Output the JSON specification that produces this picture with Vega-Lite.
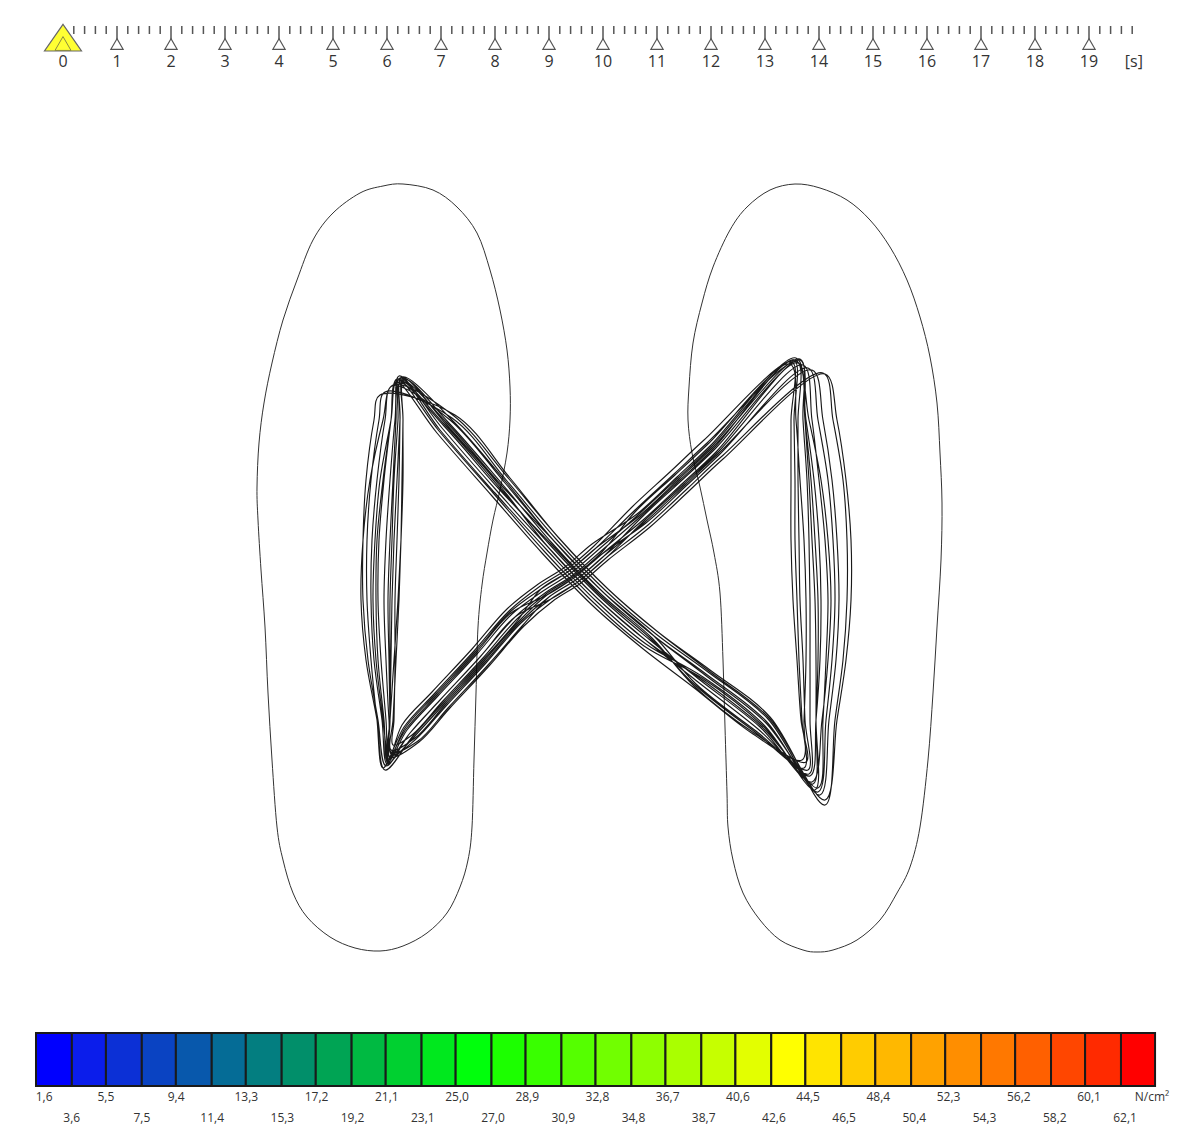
{
  "$schema": "https://vega.github.io/schema/vega-lite/v6.json",
  "padding": 0,
  "spacing": 0,
  "bounds": "flush",
  "background": "white",
  "config": {
    "view": {"stroke": null},
    "font": "Open Sans",
    "locale": {"number": {"decimal": ",", "thousands": ".", "grouping": [3], "currency": ["", " €"]}}
  },
  "vconcat": [
    {
      "width": 1192,
      "height": 90,
      "layer": [
        {
          "data": {"values": [0.2,0.4,0.6,0.8,1.2,1.4,1.6,1.8,2.2,2.4,2.6,2.8,3.2,3.4,3.6,3.8,4.2,4.4,4.6,4.8,5.2,5.4,5.6,5.8,6.2,6.4,6.6,6.8,7.2,7.4,7.6,7.8,8.2,8.4,8.6,8.8,9.2,9.4,9.6,9.8,10.2,10.4,10.6,10.8,11.2,11.4,11.6,11.8,12.2,12.4,12.6,12.8,13.2,13.4,13.6,13.8,14.2,14.4,14.6,14.8,15.2,15.4,15.6,15.8,16.2,16.4,16.6,16.8,17.2,17.4,17.6,17.8,18.2,18.4,18.6,18.8,19.2,19.4,19.6,19.8]},
          "mark": {"type": "rule", "color": "#555555", "strokeWidth": 1.5},
          "encoding": {
            "x": {"field": "data", "type": "quantitative", "scale": {"domain": [-1.16667, 20.90741], "nice": false, "zero": false}, "axis": null},
            "y": {"datum": 26, "type": "quantitative", "scale": {"domain": [0, 90], "reverse": true, "nice": false}, "axis": null},
            "y2": {"datum": 34}
          }
        },
        {
          "data": {"values": [1,2,3,4,5,6,7,8,9,10,11,12,13,14,15,16,17,18,19]},
          "mark": {"type": "rule", "color": "#555555", "strokeWidth": 1.5},
          "encoding": {
            "x": {"field": "data", "type": "quantitative", "scale": {"domain": [-1.16667, 20.90741], "nice": false, "zero": false}, "axis": null},
            "y": {"datum": 26, "type": "quantitative", "scale": {"domain": [0, 90], "reverse": true, "nice": false}, "axis": null},
            "y2": {"datum": 39}
          }
        },
        {
          "data": {"values": [1,2,3,4,5,6,7,8,9,10,11,12,13,14,15,16,17,18,19]},
          "mark": {"type": "point", "shape": "triangle-up", "size": 150, "filled": true, "fill": "white", "stroke": "#555555", "strokeWidth": 1.2, "opacity": 1},
          "encoding": {
            "x": {"field": "data", "type": "quantitative", "scale": {"domain": [-1.16667, 20.90741], "nice": false, "zero": false}, "axis": null},
            "y": {"datum": 44, "type": "quantitative", "scale": {"domain": [0, 90], "reverse": true, "nice": false}, "axis": null}
          }
        },
        {
          "data": {"values": [0]},
          "mark": {"type": "point", "shape": "M0,-0.72L1,0.72L-1,0.72Z", "size": 1369, "filled": true, "fill": "#FFFF33", "stroke": "#666666", "strokeWidth": 1.2, "opacity": 1},
          "encoding": {
            "x": {"field": "data", "type": "quantitative", "scale": {"domain": [-1.16667, 20.90741], "nice": false, "zero": false}, "axis": null},
            "y": {"datum": 37.7, "type": "quantitative", "scale": {"domain": [0, 90], "reverse": true, "nice": false}, "axis": null}
          }
        },
        {
          "data": {"values": [0]},
          "mark": {"type": "point", "shape": "triangle-up", "size": 256, "filled": false, "stroke": "#8a8a40", "strokeWidth": 1, "opacity": 1},
          "encoding": {
            "x": {"field": "data", "type": "quantitative", "scale": {"domain": [-1.16667, 20.90741], "nice": false, "zero": false}, "axis": null},
            "y": {"datum": 43.5, "type": "quantitative", "scale": {"domain": [0, 90], "reverse": true, "nice": false}, "axis": null}
          }
        },
        {
          "data": {"values": [0,1,2,3,4,5,6,7,8,9,10,11,12,13,14,15,16,17,18,19]},
          "mark": {"type": "text", "fontSize": 16, "color": "#333333", "baseline": "middle", "align": "center"},
          "encoding": {
            "x": {"field": "data", "type": "quantitative", "scale": {"domain": [-1.16667, 20.90741], "nice": false, "zero": false}, "axis": null},
            "y": {"datum": 62, "type": "quantitative", "scale": {"domain": [0, 90], "reverse": true, "nice": false}, "axis": null},
            "text": {"field": "data", "type": "quantitative", "format": "d"}
          }
        },
        {
          "data": {"values": [{"unit": "[s]"}]},
          "mark": {"type": "text", "fontSize": 16, "color": "#333333", "baseline": "middle", "align": "center"},
          "encoding": {
            "x": {"datum": 19.83, "type": "quantitative", "scale": {"domain": [-1.16667, 20.90741], "nice": false, "zero": false}, "axis": null},
            "y": {"datum": 62, "type": "quantitative", "scale": {"domain": [0, 90], "reverse": true, "nice": false}, "axis": null},
            "text": {"field": "unit"}
          }
        }
      ]
    },
    {
      "width": 1192,
      "height": 930,
      "layer": [
        {
          "data": {"values": [
            {"foot":"L","x":403,"y":184},{"foot":"L","x":433,"y":190},{"foot":"L","x":457,"y":207},{"foot":"L","x":477,"y":233},{"foot":"L","x":490,"y":270},{"foot":"L","x":500,"y":310},{"foot":"L","x":507,"y":350},{"foot":"L","x":510,"y":387},{"foot":"L","x":510,"y":420},{"foot":"L","x":507,"y":453},{"foot":"L","x":500,"y":490},{"foot":"L","x":493,"y":520},{"foot":"L","x":487,"y":553},{"foot":"L","x":482,"y":585},{"foot":"L","x":478,"y":627},{"foot":"L","x":476,"y":693},{"foot":"L","x":474,"y":760},{"foot":"L","x":472,"y":827},{"foot":"L","x":468,"y":860},{"foot":"L","x":460,"y":887},{"foot":"L","x":447,"y":913},{"foot":"L","x":427,"y":933},{"foot":"L","x":403,"y":946},{"foot":"L","x":380,"y":951},{"foot":"L","x":355,"y":948},{"foot":"L","x":330,"y":937},{"foot":"L","x":307,"y":917},{"foot":"L","x":293,"y":893},{"foot":"L","x":283,"y":860},{"foot":"L","x":277,"y":827},{"foot":"L","x":272,"y":760},{"foot":"L","x":268,"y":693},{"foot":"L","x":265,"y":627},{"foot":"L","x":261,"y":570},{"foot":"L","x":258,"y":520},{"foot":"L","x":257,"y":487},{"foot":"L","x":259,"y":443},{"foot":"L","x":264,"y":403},{"foot":"L","x":272,"y":363},{"foot":"L","x":283,"y":320},{"foot":"L","x":297,"y":280},{"foot":"L","x":313,"y":240},{"foot":"L","x":333,"y":213},{"foot":"L","x":360,"y":193},{"foot":"L","x":383,"y":186},
            {"foot":"R","x":795,"y":184},{"foot":"R","x":820,"y":188},{"foot":"R","x":847,"y":200},{"foot":"R","x":870,"y":220},{"foot":"R","x":890,"y":247},{"foot":"R","x":907,"y":280},{"foot":"R","x":920,"y":317},{"foot":"R","x":930,"y":357},{"foot":"R","x":937,"y":403},{"foot":"R","x":940,"y":453},{"foot":"R","x":942,"y":503},{"foot":"R","x":941,"y":560},{"foot":"R","x":937,"y":627},{"foot":"R","x":933,"y":693},{"foot":"R","x":928,"y":760},{"foot":"R","x":920,"y":827},{"foot":"R","x":910,"y":867},{"foot":"R","x":897,"y":893},{"foot":"R","x":880,"y":920},{"foot":"R","x":857,"y":940},{"foot":"R","x":833,"y":950},{"foot":"R","x":817,"y":952},{"foot":"R","x":803,"y":950},{"foot":"R","x":780,"y":940},{"foot":"R","x":760,"y":920},{"foot":"R","x":743,"y":893},{"foot":"R","x":733,"y":860},{"foot":"R","x":728,"y":827},{"foot":"R","x":727,"y":793},{"foot":"R","x":725,"y":727},{"foot":"R","x":723,"y":660},{"foot":"R","x":720,"y":593},{"foot":"R","x":714,"y":553},{"foot":"R","x":707,"y":520},{"foot":"R","x":700,"y":487},{"foot":"R","x":692,"y":453},{"foot":"R","x":688,"y":420},{"foot":"R","x":689,"y":387},{"foot":"R","x":693,"y":343},{"foot":"R","x":702,"y":303},{"foot":"R","x":713,"y":267},{"foot":"R","x":730,"y":230},{"foot":"R","x":747,"y":207},{"foot":"R","x":770,"y":190}
          ]},
          "mark": {"type": "line", "interpolate": "cardinal-closed", "color": "#333333", "strokeWidth": 1},
          "encoding": {
            "x": {"field": "x", "type": "quantitative", "scale": {"domain": [0, 1192], "nice": false, "zero": false}, "axis": null},
            "y": {"field": "y", "type": "quantitative", "scale": {"domain": [90, 1020], "reverse": true, "nice": false, "zero": false}, "axis": null},
            "detail": {"field": "foot"},
            "order": {"value": null}
          }
        },
        {
          "data": {"values": [
            {"x":388,"y":765},{"x":383,"y":720},{"x":376,"y":660},{"x":373,"y":600},{"x":375,"y":540},{"x":380,"y":480},{"x":391,"y":420},{"x":398,"y":380},
            {"x":445,"y":425},{"x":500,"y":488},{"x":550,"y":545},{"x":600,"y":597},{"x":650,"y":640},{"x":700,"y":680},{"x":760,"y":727},{"x":812,"y":782},
            {"x":822,"y":720},{"x":828,"y":660},{"x":831,"y":600},{"x":828,"y":540},{"x":821,"y":480},{"x":809,"y":420},{"x":795,"y":360},
            {"x":713,"y":449},{"x":680,"y":480},{"x":640,"y":517},{"x":600,"y":552},{"x":573,"y":575},{"x":545,"y":593},{"x":515,"y":617},{"x":480,"y":657},{"x":440,"y":700},{"x":410,"y":733},

            {"x":390,"y":758},{"x":390,"y":720},{"x":391,"y":660},{"x":392,"y":600},{"x":394,"y":540},{"x":397,"y":480},{"x":400,"y":420},{"x":402,"y":377},
            {"x":451,"y":419},{"x":506,"y":482},{"x":554,"y":541},{"x":604,"y":593},{"x":654,"y":636},{"x":696,"y":684},{"x":756,"y":731},{"x":808,"y":770},
            {"x":805,"y":720},{"x":803,"y":660},{"x":800,"y":600},{"x":799,"y":540},{"x":798,"y":480},{"x":798,"y":420},{"x":797,"y":362},
            {"x":707,"y":443},{"x":674,"y":474},{"x":634,"y":511},{"x":596,"y":548},{"x":569,"y":571},{"x":541,"y":589},{"x":518,"y":620},{"x":483,"y":660},{"x":443,"y":703},{"x":413,"y":736},

            {"x":385,"y":770},{"x":377,"y":720},{"x":366,"y":660},{"x":361,"y":600},{"x":363,"y":540},{"x":370,"y":480},{"x":383,"y":420},{"x":393,"y":385},
            {"x":454,"y":416},{"x":509,"y":479},{"x":558,"y":537},{"x":608,"y":589},{"x":658,"y":632},{"x":710,"y":670},{"x":770,"y":717},{"x":825,"y":805},
            {"x":835,"y":720},{"x":843,"y":660},{"x":847,"y":600},{"x":847,"y":540},{"x":843,"y":480},{"x":833,"y":420},{"x":823,"y":373},
            {"x":721,"y":457},{"x":688,"y":488},{"x":648,"y":525},{"x":606,"y":558},{"x":579,"y":581},{"x":551,"y":599},{"x":521,"y":623},{"x":486,"y":663},{"x":446,"y":706},{"x":416,"y":739},

            {"x":392,"y":755},{"x":389,"y":720},{"x":386,"y":660},{"x":384,"y":600},{"x":386,"y":540},{"x":390,"y":480},{"x":395,"y":420},{"x":400,"y":378},
            {"x":440,"y":430},{"x":495,"y":493},{"x":546,"y":549},{"x":596,"y":601},{"x":646,"y":644},{"x":703,"y":677},{"x":763,"y":724},{"x":815,"y":790},
            {"x":816,"y":720},{"x":816,"y":660},{"x":815,"y":600},{"x":812,"y":540},{"x":809,"y":480},{"x":805,"y":420},{"x":800,"y":360},
            {"x":716,"y":452},{"x":683,"y":483},{"x":643,"y":520},{"x":602,"y":554},{"x":575,"y":577},{"x":547,"y":595},{"x":511,"y":613},{"x":476,"y":653},{"x":436,"y":696},{"x":406,"y":729},

            {"x":387,"y":762},{"x":390,"y":720},{"x":394,"y":660},{"x":398,"y":600},{"x":401,"y":540},{"x":403,"y":480},{"x":403,"y":420},{"x":404,"y":379},
            {"x":448,"y":422},{"x":503,"y":485},{"x":552,"y":543},{"x":602,"y":595},{"x":652,"y":638},{"x":694,"y":686},{"x":754,"y":733},{"x":806,"y":762},
            {"x":801,"y":720},{"x":797,"y":660},{"x":793,"y":600},{"x":791,"y":540},{"x":791,"y":480},{"x":791,"y":420},{"x":792,"y":362},
            {"x":704,"y":440},{"x":671,"y":471},{"x":631,"y":508},{"x":594,"y":546},{"x":567,"y":569},{"x":539,"y":587},{"x":509,"y":611},{"x":474,"y":651},{"x":434,"y":694},{"x":404,"y":727},

            {"x":383,"y":768},{"x":377,"y":720},{"x":371,"y":660},{"x":367,"y":600},{"x":367,"y":540},{"x":371,"y":480},{"x":379,"y":420},{"x":385,"y":392},
            {"x":452,"y":418},{"x":507,"y":481},{"x":556,"y":539},{"x":606,"y":591},{"x":656,"y":634},{"x":708,"y":672},{"x":768,"y":719},{"x":820,"y":795},
            {"x":829,"y":720},{"x":836,"y":660},{"x":839,"y":600},{"x":837,"y":540},{"x":832,"y":480},{"x":823,"y":420},{"x":812,"y":370},
            {"x":718,"y":454},{"x":685,"y":485},{"x":645,"y":522},{"x":604,"y":556},{"x":577,"y":579},{"x":549,"y":597},{"x":523,"y":625},{"x":488,"y":665},{"x":448,"y":708},{"x":418,"y":741},

            {"x":391,"y":752},{"x":390,"y":720},{"x":389,"y":660},{"x":388,"y":600},{"x":390,"y":540},{"x":393,"y":480},{"x":396,"y":420},{"x":399,"y":376},
            {"x":442,"y":428},{"x":497,"y":491},{"x":548,"y":547},{"x":598,"y":599},{"x":648,"y":642},{"x":701,"y":679},{"x":761,"y":726},{"x":810,"y":776},
            {"x":816,"y":720},{"x":820,"y":660},{"x":821,"y":600},{"x":819,"y":540},{"x":814,"y":480},{"x":806,"y":420},{"x":796,"y":358},
            {"x":710,"y":446},{"x":677,"y":477},{"x":637,"y":514},{"x":592,"y":544},{"x":565,"y":567},{"x":537,"y":585},{"x":507,"y":609},{"x":472,"y":649},{"x":432,"y":692},{"x":402,"y":725},

            {"x":389,"y":760},{"x":386,"y":720},{"x":381,"y":660},{"x":378,"y":600},{"x":379,"y":540},{"x":384,"y":480},{"x":391,"y":420},{"x":396,"y":382},
            {"x":437,"y":433},{"x":492,"y":496},{"x":542,"y":553},{"x":592,"y":605},{"x":642,"y":648},{"x":693,"y":687},{"x":753,"y":734},{"x":802,"y":760},
            {"x":804,"y":720},{"x":806,"y":660},{"x":806,"y":600},{"x":804,"y":540},{"x":800,"y":480},{"x":796,"y":420},{"x":790,"y":364},
            {"x":708,"y":444},{"x":675,"y":475},{"x":635,"y":512},{"x":601,"y":553},{"x":574,"y":576},{"x":546,"y":594},{"x":517,"y":619},{"x":482,"y":659},{"x":442,"y":702},{"x":412,"y":735},

            {"x":393,"y":745},{"x":394,"y":720},{"x":395,"y":660},{"x":395,"y":600},{"x":397,"y":540},{"x":399,"y":480},{"x":400,"y":420},{"x":401,"y":380},
            {"x":447,"y":423},{"x":502,"y":486},{"x":554,"y":541},{"x":604,"y":593},{"x":654,"y":636},{"x":705,"y":675},{"x":765,"y":722},{"x":818,"y":788},
            {"x":823,"y":720},{"x":826,"y":660},{"x":828,"y":600},{"x":825,"y":540},{"x":819,"y":480},{"x":812,"y":420},{"x":803,"y":365},
            {"x":717,"y":453},{"x":684,"y":484},{"x":644,"y":521},{"x":606,"y":558},{"x":579,"y":581},{"x":551,"y":599},{"x":515,"y":617},{"x":480,"y":657},{"x":440,"y":700},{"x":410,"y":733},

            {"x":386,"y":766},{"x":378,"y":720},{"x":368,"y":660},{"x":363,"y":600},{"x":363,"y":540},{"x":366,"y":480},{"x":374,"y":420},{"x":380,"y":395},
            {"x":455,"y":415},{"x":510,"y":478},{"x":558,"y":537},{"x":608,"y":589},{"x":658,"y":632},{"x":709,"y":671},{"x":769,"y":718},{"x":825,"y":800},
            {"x":837,"y":720},{"x":846,"y":660},{"x":851,"y":600},{"x":851,"y":540},{"x":846,"y":480},{"x":837,"y":420},{"x":825,"y":374},
            {"x":723,"y":459},{"x":690,"y":490},{"x":650,"y":527},{"x":608,"y":560},{"x":581,"y":583},{"x":553,"y":601},{"x":524,"y":626},{"x":489,"y":666},{"x":449,"y":709},{"x":419,"y":742},

            {"x":390,"y":757},{"x":390,"y":720},{"x":390,"y":660},{"x":390,"y":600},{"x":392,"y":540},{"x":394,"y":480},{"x":398,"y":420},{"x":400,"y":383},
            {"x":444,"y":426},{"x":499,"y":489},{"x":551,"y":544},{"x":601,"y":596},{"x":651,"y":639},{"x":695,"y":685},{"x":755,"y":732},{"x":804,"y":768},
            {"x":802,"y":720},{"x":799,"y":660},{"x":797,"y":600},{"x":795,"y":540},{"x":795,"y":480},{"x":794,"y":420},{"x":794,"y":360},
            {"x":711,"y":447},{"x":678,"y":478},{"x":638,"y":515},{"x":598,"y":550},{"x":571,"y":573},{"x":543,"y":591},{"x":512,"y":614},{"x":477,"y":654},{"x":437,"y":697},{"x":407,"y":730},

            {"x":388,"y":762},{"x":384,"y":720},{"x":378,"y":660},{"x":376,"y":600},{"x":377,"y":540},{"x":383,"y":480},{"x":391,"y":420},{"x":397,"y":379},
            {"x":439,"y":431},{"x":494,"y":494},{"x":544,"y":551},{"x":594,"y":603},{"x":644,"y":646},{"x":702,"y":678},{"x":762,"y":725},{"x":813,"y":784},
            {"x":816,"y":720},{"x":818,"y":660},{"x":818,"y":600},{"x":815,"y":540},{"x":811,"y":480},{"x":805,"y":420},{"x":798,"y":363},
            {"x":714,"y":450},{"x":681,"y":481},{"x":641,"y":518},{"x":604,"y":556},{"x":577,"y":579},{"x":549,"y":597},{"x":520,"y":622},{"x":485,"y":662},{"x":445,"y":705},{"x":415,"y":738},

            {"x":391,"y":750},{"x":393,"y":720},{"x":396,"y":660},{"x":399,"y":600},{"x":401,"y":540},{"x":402,"y":480},{"x":403,"y":420},{"x":403,"y":378},
            {"x":446,"y":424},{"x":501,"y":487},{"x":548,"y":547},{"x":598,"y":599},{"x":648,"y":642},{"x":698,"y":682},{"x":758,"y":729},{"x":809,"y":774},
            {"x":810,"y":720},{"x":810,"y":660},{"x":810,"y":600},{"x":809,"y":540},{"x":807,"y":480},{"x":803,"y":420},{"x":800,"y":359},
            {"x":712,"y":448},{"x":679,"y":479},{"x":639,"y":516},{"x":596,"y":548},{"x":569,"y":571},{"x":541,"y":589},{"x":510,"y":612},{"x":475,"y":652},{"x":435,"y":695},{"x":405,"y":728},

            {"x":387,"y":764},{"x":382,"y":720},{"x":374,"y":660},{"x":371,"y":600},{"x":372,"y":540},{"x":377,"y":480},{"x":385,"y":420},{"x":392,"y":386},
            {"x":450,"y":420},{"x":505,"y":483},{"x":554,"y":541},{"x":604,"y":593},{"x":654,"y":636},{"x":706,"y":674},{"x":766,"y":721},{"x":818,"y":792},
            {"x":826,"y":720},{"x":832,"y":660},{"x":835,"y":600},{"x":833,"y":540},{"x":828,"y":480},{"x":818,"y":420},{"x":808,"y":368},
            {"x":719,"y":455},{"x":686,"y":486},{"x":646,"y":523},{"x":602,"y":554},{"x":575,"y":577},{"x":547,"y":595},{"x":519,"y":621},{"x":484,"y":661},{"x":444,"y":704},{"x":414,"y":737},
            {"x":388,"y":765}
          ]},
          "mark": {"type": "line", "interpolate": "catmull-rom", "color": "#000000", "strokeWidth": 1.15, "opacity": 0.9},
          "encoding": {
            "x": {"field": "x", "type": "quantitative", "scale": {"domain": [0, 1192], "nice": false, "zero": false}, "axis": null},
            "y": {"field": "y", "type": "quantitative", "scale": {"domain": [90, 1020], "reverse": true, "nice": false, "zero": false}, "axis": null},
            "order": {"value": null}
          }
        }
      ]
    },
    {
      "width": 1192,
      "height": 106,
      "resolve": {"scale": {"x": "independent"}},
      "layer": [
        {
          "data": {"values": [
            {"p":1.6,"p2":3.6},{"p":3.6,"p2":5.5},{"p":5.5,"p2":7.5},{"p":7.5,"p2":9.4},{"p":9.4,"p2":11.4},{"p":11.4,"p2":13.3},{"p":13.3,"p2":15.3},{"p":15.3,"p2":17.2},
            {"p":17.2,"p2":19.2},{"p":19.2,"p2":21.1},{"p":21.1,"p2":23.1},{"p":23.1,"p2":25.0},{"p":25.0,"p2":27.0},{"p":27.0,"p2":28.9},{"p":28.9,"p2":30.9},{"p":30.9,"p2":32.8},
            {"p":32.8,"p2":34.8},{"p":34.8,"p2":36.7},{"p":36.7,"p2":38.7},{"p":38.7,"p2":40.6},{"p":40.6,"p2":42.6},{"p":42.6,"p2":44.5},{"p":44.5,"p2":46.5},{"p":46.5,"p2":48.4},
            {"p":48.4,"p2":50.4},{"p":50.4,"p2":52.3},{"p":52.3,"p2":54.3},{"p":54.3,"p2":56.2},{"p":56.2,"p2":58.2},{"p":58.2,"p2":60.1},{"p":60.1,"p2":62.1},{"p":62.1,"p2":64.0}
          ]},
          "mark": {"type": "rect", "stroke": "#1a1a1a", "strokeWidth": 2},
          "encoding": {
            "x": {"field": "p", "type": "quantitative", "scale": {"domain": [-0.407, 66.06], "nice": false, "zero": false}, "axis": null},
            "x2": {"field": "p2"},
            "y": {"datum": 1033, "type": "quantitative", "scale": {"domain": [1020, 1126], "reverse": true, "nice": false, "zero": false}, "axis": null},
            "y2": {"datum": 1086},
            "fill": {
              "field": "p", "type": "ordinal", "legend": null,
              "scale": {
                "domain": [1.6,3.6,5.5,7.5,9.4,11.4,13.3,15.3,17.2,19.2,21.1,23.1,25.0,27.0,28.9,30.9,32.8,34.8,36.7,38.7,40.6,42.6,44.5,46.5,48.4,50.4,52.3,54.3,56.2,58.2,60.1,62.1],
                "range": ["#0000FF","#0B1DEB","#0C30D6","#0A43C2","#0858AC","#056C96","#037E80","#018F6A","#00A454","#00BA42","#00D030","#00E81E","#00FF0C","#1CFF00","#39FF00","#55FF00","#71FF00","#8EFF00","#AAFF00","#C6FF00","#E3FF00","#FFFF00","#FFE400","#FFCC00","#FFB800","#FFA200","#FF8E00","#FF7800","#FF6000","#FF4600","#FF2A00","#FF0000"]
              }
            }
          }
        },
        {
          "data": {"values": [1.6]},
          "mark": {"type": "text", "fontSize": 12, "color": "#333333", "align": "left", "baseline": "middle"},
          "encoding": {
            "x": {"field": "data", "type": "quantitative", "scale": {"domain": [-0.382, 65.82], "nice": false, "zero": false}, "axis": null},
            "y": {"datum": 1097, "type": "quantitative", "scale": {"domain": [1020, 1126], "reverse": true, "nice": false, "zero": false}, "axis": null},
            "text": {"field": "data", "type": "quantitative", "format": ".1f"}
          }
        },
        {
          "data": {"values": [5.5,9.4,13.3,17.2,21.1,25.0,28.9,32.8,36.7,40.6,44.5,48.4,52.3,56.2,60.1]},
          "mark": {"type": "text", "fontSize": 12, "color": "#333333", "align": "center", "baseline": "middle"},
          "encoding": {
            "x": {"field": "data", "type": "quantitative", "scale": {"domain": [-0.382, 65.82], "nice": false, "zero": false}, "axis": null},
            "y": {"datum": 1097, "type": "quantitative", "scale": {"domain": [1020, 1126], "reverse": true, "nice": false, "zero": false}, "axis": null},
            "text": {"field": "data", "type": "quantitative", "format": ".1f"}
          }
        },
        {
          "data": {"values": [3.6,7.5,11.4,15.3,19.2,23.1,27.0,30.9,34.8,38.7,42.6,46.5,50.4,54.3,58.2,62.1]},
          "mark": {"type": "text", "fontSize": 12, "color": "#333333", "align": "center", "baseline": "middle"},
          "encoding": {
            "x": {"field": "data", "type": "quantitative", "scale": {"domain": [-0.382, 65.82], "nice": false, "zero": false}, "axis": null},
            "y": {"datum": 1117.5, "type": "quantitative", "scale": {"domain": [1020, 1126], "reverse": true, "nice": false, "zero": false}, "axis": null},
            "text": {"field": "data", "type": "quantitative", "format": ".1f"}
          }
        },
        {
          "data": {"values": [{"unit": "N/cm²"}]},
          "mark": {"type": "text", "fontSize": 12, "color": "#333333", "align": "center", "baseline": "middle"},
          "encoding": {
            "x": {"datum": 63.6, "type": "quantitative", "scale": {"domain": [-0.382, 65.82], "nice": false, "zero": false}, "axis": null},
            "y": {"datum": 1097, "type": "quantitative", "scale": {"domain": [1020, 1126], "reverse": true, "nice": false, "zero": false}, "axis": null},
            "text": {"field": "unit"}
          }
        }
      ]
    }
  ]
}
